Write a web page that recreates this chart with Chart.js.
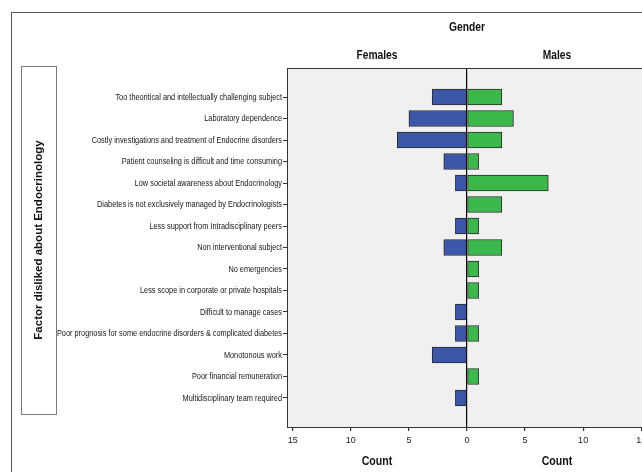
<!DOCTYPE html>
<html>
<head>
<meta charset="utf-8">
<script src="https://cdn.jsdelivr.net/npm/chart.js@4"></script>
<style>
  html, body { margin: 0; padding: 0; background: #fff; overflow: hidden; }
  #wrap { width: 660px; height: 472px; }
</style>
</head>
<body>
<div id="wrap"><canvas id="chart" width="660" height="472"></canvas></div>
<script>
// Factor disliked about Endocrinology, counts by gender
const factors = [
  'Too theoritical and intellectually challenging subject',
  'Laboratory dependence',
  'Costly investigations and treatment of Endocrine disorders',
  'Patient counseling is difficult and time consuming',
  'Low societal awareness about Endocrinology',
  'Diabetes is not exclusively managed by Endocrinologists',
  'Less support from Intradisciplinary peers',
  'Non interventional subject',
  'No emergencies',
  'Less scope in corporate or private hospitals',
  'Difficult to manage cases',
  'Poor prognosis for some endocrine disorders & complicated diabetes',
  'Monotonous work',
  'Poor financial remuneration',
  'Multidisciplinary team required'
];
const females = [3, 5, 6, 2, 1, 0, 1, 2, 0, 0, 1, 1, 3, 0, 1];
const males   = [3, 4, 3, 1, 7, 3, 1, 3, 1, 1, 0, 1, 0, 1, 0];
const countTicks = [-15, -10, -5, 0, 5, 10, 15];

const SANS = '"Liberation Sans", Arial, sans-serif';
Chart.defaults.font.family = SANS;
Chart.defaults.color = '#111';

// zero counts draw no bar
const toPoints = (arr, sign) => arr.map((v, i) => ({ x: v ? sign * v : null, y: i }));

// the original uses a narrow face; squeeze regular text horizontally
function narrowText(ctx, text, x, y, squeeze, align) {
  ctx.save();
  ctx.translate(x, y);
  ctx.scale(squeeze, 1);
  ctx.textAlign = align;
  ctx.fillText(text, 0, 0);
  ctx.restore();
}

// background panel, frames, category labels and titles
const framePlugin = {
  id: 'frame',
  beforeDraw(chart) {
    const { ctx, chartArea: a } = chart;
    ctx.save();
    ctx.fillStyle = '#fff';
    ctx.fillRect(0, 0, chart.width, chart.height);
    ctx.strokeStyle = '#5a5a5a';
    ctx.lineWidth = 1;
    ctx.strokeRect(11.5, 12.5, chart.width, chart.height);
    ctx.strokeStyle = '#7a7a7a';
    ctx.strokeRect(21.5, 66.5, 35, 348);
    ctx.fillStyle = '#f0f0f0';
    ctx.fillRect(a.left, a.top, a.right - a.left, a.bottom - a.top);
    ctx.restore();
  },
  afterDraw(chart) {
    const { ctx, chartArea: a } = chart;
    const x = chart.scales.x;
    const y = chart.scales.y;
    const zero = x.getPixelForValue(0);
    const leftMid = (a.left + zero) / 2;
    const rightMid = (zero + a.right) / 2;
    ctx.save();
    ctx.strokeStyle = '#333';
    ctx.lineWidth = 1;
    ctx.strokeRect(a.left + 0.5, a.top + 0.5, a.right - a.left, a.bottom - a.top);

    ctx.textBaseline = 'middle';
    ctx.fillStyle = '#151515';
    ctx.font = '9.5px ' + SANS;
    factors.forEach((f, i) => {
      narrowText(ctx, f, a.left - 5, y.getPixelForValue(i), 0.775, 'right');
    });

    ctx.fillStyle = '#111';
    ctx.font = 'bold 12.5px ' + SANS;
    narrowText(ctx, 'Gender', zero, 28, 0.82, 'center');
    narrowText(ctx, 'Females', leftMid, 56, 0.82, 'center');
    narrowText(ctx, 'Males', rightMid, 56, 0.82, 'center');
    narrowText(ctx, 'Count', leftMid, 462, 0.85, 'center');
    narrowText(ctx, 'Count', rightMid, 462, 0.85, 'center');

    ctx.translate(39, 240);
    ctx.rotate(-Math.PI / 2);
    ctx.textAlign = 'center';
    ctx.font = 'bold 11.5px ' + SANS;
    ctx.fillText('Factor disliked about Endocrinology', 0, 0);
    ctx.restore();
  }
};

new Chart(document.getElementById('chart'), {
  type: 'bar',
  data: {
    datasets: [
      {
        label: 'Females',
        data: toPoints(females, -1),
        backgroundColor: '#3c56a8',
        borderColor: '#2a2a2a',
        borderWidth: 1,
        borderSkipped: false,
        barThickness: 16,
        grouped: false
      },
      {
        label: 'Males',
        data: toPoints(males, 1),
        backgroundColor: '#3db84c',
        borderColor: '#2a2a2a',
        borderWidth: 1,
        borderSkipped: false,
        barThickness: 16,
        grouped: false
      }
    ]
  },
  options: {
    indexAxis: 'y',
    responsive: false,
    animation: false,
    layout: { padding: { left: 0, top: 68, right: 13, bottom: 0 } },
    scales: {
      x: {
        type: 'linear',
        min: -15.5,
        max: 15.5,
        afterFit: s => { s.height = 45; },
        afterBuildTicks: s => { s.ticks = countTicks.map(v => ({ value: v })); },
        border: { display: true, color: '#333' },
        grid: {
          drawOnChartArea: true,
          color: c => (c.tick && c.tick.value === 0 ? '#000' : 'rgba(0,0,0,0)'),
          lineWidth: 1.2,
          tickColor: '#333',
          tickLength: 4
        },
        ticks: {
          padding: 4,
          font: { size: 9 },
          color: '#222',
          callback: v => Math.abs(v)
        }
      },
      y: {
        type: 'linear',
        reverse: true,
        offset: false,
        min: -1.35,
        max: factors.length - 1 + 1.35,
        afterFit: s => { s.width = 287; },
        afterBuildTicks: s => { s.ticks = factors.map((_, i) => ({ value: i })); },
        border: { display: true, color: '#333' },
        grid: {
          offset: false,
          drawOnChartArea: false,
          tickColor: '#333',
          tickLength: 4
        },
        ticks: { display: false }
      }
    },
    plugins: {
      legend: { display: false },
      tooltip: { enabled: false }
    }
  },
  plugins: [framePlugin]
});
</script>
</body>
</html>
